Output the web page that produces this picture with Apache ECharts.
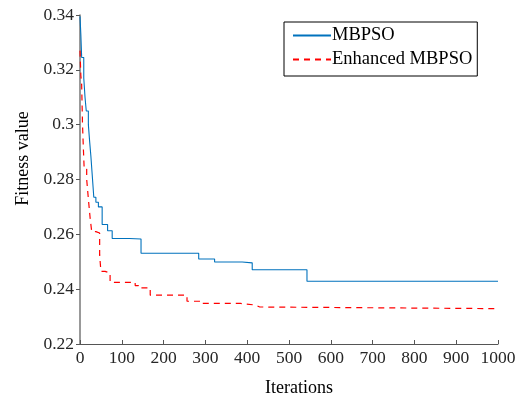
<!DOCTYPE html>
<html>
<head>
<meta charset="utf-8">
<script src="https://cdn.jsdelivr.net/npm/echarts@6/dist/echarts.min.js"></script>
<style>html,body{margin:0;padding:0;background:#fff}#c{width:524px;height:402px}</style>
</head>
<body>
<div id="c"></div>
<script>
var seriesNames = ['MBPSO', 'Enhanced MBPSO'];
var xTicks = [0, 100, 200, 300, 400, 500, 600, 700, 800, 900, 1000];
var yTicks = [0.22, 0.24, 0.26, 0.28, 0.3, 0.32, 0.34];
// [iteration, best fitness so far]
var mbpso = [[0,0.3395],[2,0.333],[4,0.3245],[9,0.317],[12,0.310],[15,0.305],[20,0.300],[23,0.294],[26,0.2886],[30,0.2800],[33,0.2735],[38,0.2717],[44,0.2700],[53,0.2636],[66,0.2613],[77,0.2585],[118,0.2583],[146,0.2531],[284,0.2510],[322,0.2499],[388,0.2496],[412,0.2471],[543,0.2429],[1000,0.2429]];
var enhanced = [[0,0.3270],[2,0.318],[4,0.3145],[6,0.300],[8,0.2916],[10,0.2838],[16,0.2800],[20,0.273],[24,0.2663],[28,0.261],[38,0.2605],[47,0.2525],[50,0.2465],[60,0.2459],[72,0.2425],[120,0.2425],[132,0.2413],[140,0.2405],[168,0.2378],[256,0.2356],[292,0.2348],[384,0.2342],[420,0.2335],[430,0.2329],[1000,0.2329]];

var font = '"Liberation Serif", "Times New Roman", serif';
var chart = echarts.init(document.getElementById('c'));
chart.setOption({
  animation: false,
  textStyle: {fontFamily: font},
  grid: {left: 80, right: 26, top: 15, bottom: 57, containLabel: false},
  legend: {
    left: 284, top: 22, orient: 'vertical',
    data: seriesNames,
    backgroundColor: '#fff', borderColor: '#000', borderWidth: 1,
    padding: [4, 5, 7, 8], itemGap: 5, itemWidth: 38, itemHeight: 14,
    itemStyle: {opacity: 0},
    textStyle: {fontFamily: font, fontSize: 18.5, color: '#000', lineHeight: 18, padding: [0,0,0,-4]}
  },
  xAxis: {
    type: 'value', min: 0, max: 1000, interval: 100,
    name: 'Iterations', nameLocation: 'middle', nameGap: 35,
    nameTextStyle: {fontFamily: font, fontSize: 18, color: '#000', padding: [0,0,0,20]},
    axisLine: {lineStyle: {color: '#555', width: 1}},
    axisTick: {inside: true, length: 4, lineStyle: {color: '#555'}},
    axisLabel: {fontFamily: font, fontSize: 17.5, color: '#262626', margin: 5,
      formatter: function (v) { return xTicks.indexOf(v) >= 0 ? String(v) : ''; }},
    splitLine: {show: false}
  },
  yAxis: {
    type: 'value', min: 0.22, max: 0.34, interval: 0.02,
    name: 'Fitness value', nameLocation: 'middle', nameGap: 48,
    nameTextStyle: {fontFamily: font, fontSize: 18, color: '#000', padding: [0,0,0,42]},
    axisLine: {show: true, lineStyle: {color: '#777', width: 1.5}},
    axisTick: {show: true, inside: false, length: 4, lineStyle: {color: '#555'}},
    axisLabel: {fontFamily: font, fontSize: 17.5, color: '#262626', margin: 6,
      formatter: function (v) {
        for (var i = 0; i < yTicks.length; i++) if (Math.abs(yTicks[i] - v) < 1e-9) return String(yTicks[i]);
        return '';
      }},
    splitLine: {show: false}
  },
  series: [
    {name: seriesNames[0], type: 'line', step: 'end', data: mbpso, symbol: 'none',
     lineStyle: {color: '#0072BD', width: 1.1}, itemStyle: {color: '#0072BD'}},
    {name: seriesNames[1], type: 'line', step: 'end', data: enhanced, symbol: 'none',
     lineStyle: {color: '#FF0000', width: 1.2, type: [6, 5]}, itemStyle: {color: '#FF0000'}}
  ]
});
</script>
</body>
</html>
